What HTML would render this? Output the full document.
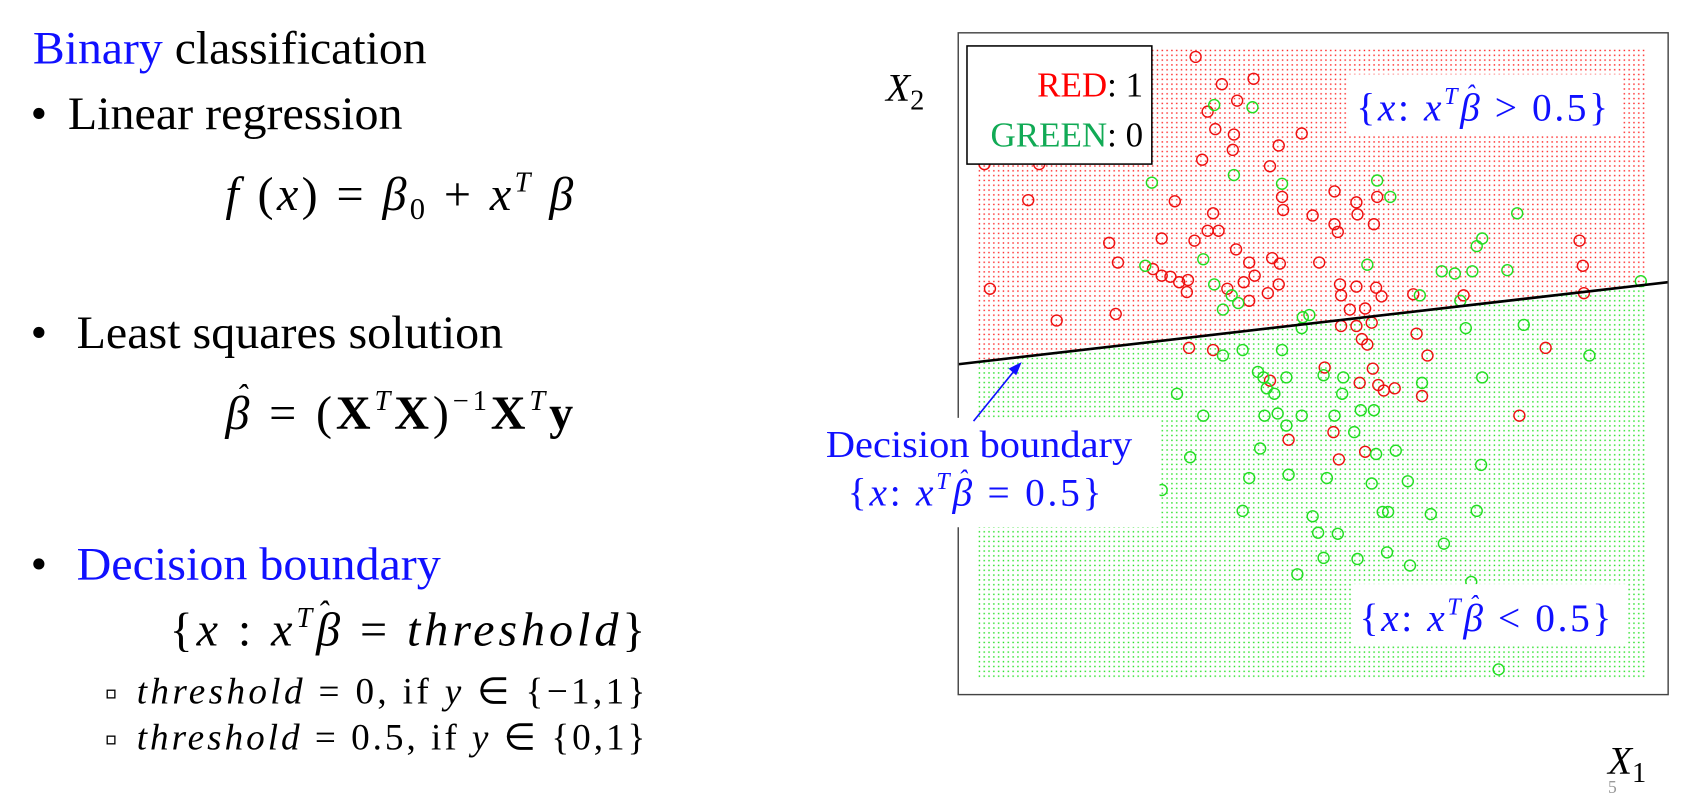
<!DOCTYPE html>
<html><head><meta charset="utf-8"><style>
html,body{margin:0;padding:0;background:#fff;}
svg{display:block;}
text{font-family:"Liberation Serif",serif;}
</style></head><body>
<svg width="1707" height="796" viewBox="0 0 1560.5 727.7" xmlns="http://www.w3.org/2000/svg">
<defs>
<pattern id="pr" width="4.4" height="4.4" patternUnits="userSpaceOnUse"><rect x="1.5" y="1.5" width="1.3" height="1.3" fill="#ff2020"/></pattern>
<pattern id="pg" width="4.4" height="4.4" patternUnits="userSpaceOnUse"><rect x="1.5" y="1.5" width="1.3" height="1.3" fill="#20e020"/></pattern>
</defs>
<!-- left text -->
<text x="30" y="58" font-size="43" textLength="360" lengthAdjust="spacingAndGlyphs"><tspan fill="#1010ff">Binary</tspan> classification</text>
<text x="28" y="118" font-size="43">•</text><text x="62" y="118" font-size="43" textLength="306" lengthAdjust="spacingAndGlyphs">Linear regression</text>
<text x="206" y="192" font-size="44" font-style="italic" textLength="318" lengthAdjust="spacing">f <tspan font-style="normal">(</tspan>x<tspan font-style="normal">) = </tspan>β<tspan font-style="normal" font-size="28" dy="8">0</tspan><tspan font-style="normal" dy="-8"> + </tspan>x<tspan font-size="26" dy="-17">T</tspan><tspan dy="17"> β</tspan></text>
<text x="28" y="318" font-size="43">•</text><text x="70" y="318" font-size="43" textLength="390" lengthAdjust="spacingAndGlyphs">Least squares solution</text>
<text x="206" y="392" font-size="44" textLength="318" lengthAdjust="spacing"><tspan font-style="italic">β</tspan> = (<tspan font-weight="bold">X</tspan><tspan font-style="italic" font-size="26" dy="-17">T</tspan><tspan font-weight="bold" dy="17">X</tspan>)<tspan font-size="26" dy="-17">−1</tspan><tspan font-weight="bold" dy="17">X</tspan><tspan font-style="italic" font-size="26" dy="-17">T</tspan><tspan font-weight="bold" dy="17">y</tspan></text>
<text x="216" y="372" font-size="30" font-style="italic">ˆ</text>
<text x="28" y="530" font-size="43">•</text><text x="70" y="530" font-size="43" fill="#1010ff" textLength="333" lengthAdjust="spacingAndGlyphs">Decision boundary</text>
<text x="155" y="590" font-size="44" textLength="435" lengthAdjust="spacing">{<tspan font-style="italic">x</tspan> :  <tspan font-style="italic">x</tspan><tspan font-style="italic" font-size="26" dy="-17">T</tspan><tspan font-style="italic" dy="17">β</tspan> = <tspan font-style="italic">threshold</tspan>}</text>
<text x="290" y="570" font-size="30" font-style="italic">ˆ</text>
<rect x="98" y="631" width="7" height="7" fill="none" stroke="#000" stroke-width="1.2"/>
<rect x="98" y="673" width="7" height="7" fill="none" stroke="#000" stroke-width="1.2"/>
<text x="125" y="643" font-size="34" textLength="465" lengthAdjust="spacing"><tspan font-style="italic">threshold</tspan>  =  0, if <tspan font-style="italic">y</tspan> ∈ {−1,1}</text>
<text x="125" y="685" font-size="34" textLength="465" lengthAdjust="spacing"><tspan font-style="italic">threshold</tspan>  =  0.5, if <tspan font-style="italic">y</tspan> ∈ {0,1}</text>

<!-- plot -->
<polygon points="893,45 1505,45 1505,259 893,330" fill="url(#pr)"/>
<polygon points="893,330 1505,259 1505,620 893,620" fill="url(#pg)"/>
<g fill="none" stroke-width="1.3">
<g stroke="#ee1111">
<circle cx="1093" cy="52" r="5"/><circle cx="1117" cy="77" r="5"/><circle cx="1146" cy="72" r="5"/><circle cx="1131" cy="92" r="5"/><circle cx="1104" cy="102" r="5"/><circle cx="1111" cy="118" r="5"/><circle cx="1128" cy="123" r="5"/><circle cx="1169" cy="133" r="5"/><circle cx="1190" cy="122" r="5"/><circle cx="1127" cy="137" r="5"/><circle cx="1099" cy="146" r="5"/><circle cx="1161" cy="152" r="5"/><circle cx="940" cy="183" r="5"/><circle cx="1074" cy="184" r="5"/><circle cx="1109" cy="195" r="5"/><circle cx="1172" cy="180" r="5"/><circle cx="1173" cy="192" r="5"/><circle cx="1240" cy="185" r="5"/><circle cx="1259" cy="180" r="5"/><circle cx="1241" cy="196" r="5"/><circle cx="1200" cy="197" r="5"/><circle cx="1220" cy="205" r="5"/><circle cx="1223" cy="212" r="5"/><circle cx="1256" cy="205" r="5"/><circle cx="1014" cy="222" r="5"/><circle cx="1022" cy="240" r="5"/><circle cx="1062" cy="218" r="5"/><circle cx="1104" cy="211" r="5"/><circle cx="1114" cy="211" r="5"/><circle cx="1092" cy="220" r="5"/><circle cx="1130" cy="228" r="5"/><circle cx="1142" cy="240" r="5"/><circle cx="1147" cy="252" r="5"/><circle cx="1170" cy="241" r="5"/><circle cx="1163" cy="236" r="5"/><circle cx="1206" cy="240" r="5"/><circle cx="1054" cy="246" r="5"/><circle cx="1062" cy="252" r="5"/><circle cx="1070" cy="253" r="5"/><circle cx="1078" cy="258" r="5"/><circle cx="1086" cy="256" r="5"/><circle cx="1085" cy="267" r="5"/><circle cx="1122" cy="264" r="5"/><circle cx="1137" cy="258" r="5"/><circle cx="1142" cy="275" r="5"/><circle cx="1159" cy="268" r="5"/><circle cx="1169" cy="260" r="5"/><circle cx="1225" cy="260" r="5"/><circle cx="1226" cy="270" r="5"/><circle cx="1240" cy="262" r="5"/><circle cx="1258" cy="263" r="5"/><circle cx="1263" cy="271" r="5"/><circle cx="1248" cy="282" r="5"/><circle cx="1234" cy="283" r="5"/><circle cx="1226" cy="298" r="5"/><circle cx="1240" cy="298" r="5"/><circle cx="1254" cy="295" r="5"/><circle cx="1245" cy="310" r="5"/><circle cx="1250" cy="315" r="5"/><circle cx="1295" cy="305" r="5"/><circle cx="1305" cy="325" r="5"/><circle cx="1413" cy="318" r="5"/><circle cx="1389" cy="380" r="5"/><circle cx="1447" cy="243" r="5"/><circle cx="1444" cy="220" r="5"/><circle cx="1448" cy="268" r="5"/><circle cx="905" cy="264" r="5"/><circle cx="966" cy="293" r="5"/><circle cx="1020" cy="287" r="5"/><circle cx="1087" cy="318" r="5"/><circle cx="1109" cy="320" r="5"/><circle cx="1178" cy="402" r="5"/><circle cx="1224" cy="420" r="5"/><circle cx="1219" cy="395" r="5"/><circle cx="1248" cy="413" r="5"/><circle cx="1265" cy="357" r="5"/><circle cx="1275" cy="355" r="5"/><circle cx="1260" cy="352" r="5"/><circle cx="1255" cy="337" r="5"/><circle cx="1243" cy="350" r="5"/><circle cx="1300" cy="362" r="5"/><circle cx="1211" cy="336" r="5"/><circle cx="1161" cy="348" r="5"/><circle cx="1292" cy="269" r="5"/><circle cx="1220" cy="175" r="5"/><circle cx="1338" cy="270" r="5"/><circle cx="900" cy="150" r="5"/><circle cx="950" cy="150" r="5"/>
</g>
<g stroke="#22dd22">
<circle cx="1110" cy="96" r="5"/><circle cx="1145" cy="98" r="5"/><circle cx="1053" cy="167" r="5"/><circle cx="1128" cy="160" r="5"/><circle cx="1172" cy="168" r="5"/><circle cx="1259" cy="165" r="5"/><circle cx="1271" cy="180" r="5"/><circle cx="1387" cy="195" r="5"/><circle cx="1355" cy="218" r="5"/><circle cx="1350" cy="225" r="5"/><circle cx="1378" cy="247" r="5"/><circle cx="1346" cy="248" r="5"/><circle cx="1318" cy="248" r="5"/><circle cx="1298" cy="270" r="5"/><circle cx="1335" cy="275" r="5"/><circle cx="1340" cy="300" r="5"/><circle cx="1393" cy="297" r="5"/><circle cx="1453" cy="325" r="5"/><circle cx="1500" cy="257" r="5"/><circle cx="1047" cy="243" r="5"/><circle cx="1100" cy="237" r="5"/><circle cx="1132" cy="277" r="5"/><circle cx="1118" cy="283" r="5"/><circle cx="1118" cy="325" r="5"/><circle cx="1136" cy="320" r="5"/><circle cx="1191" cy="290" r="5"/><circle cx="1197" cy="288" r="5"/><circle cx="1190" cy="300" r="5"/><circle cx="1172" cy="320" r="5"/><circle cx="1150" cy="340" r="5"/><circle cx="1155" cy="345" r="5"/><circle cx="1158" cy="355" r="5"/><circle cx="1176" cy="345" r="5"/><circle cx="1165" cy="360" r="5"/><circle cx="1156" cy="380" r="5"/><circle cx="1168" cy="378" r="5"/><circle cx="1176" cy="389" r="5"/><circle cx="1190" cy="380" r="5"/><circle cx="1210" cy="343" r="5"/><circle cx="1228" cy="345" r="5"/><circle cx="1244" cy="375" r="5"/><circle cx="1256" cy="375" r="5"/><circle cx="1227" cy="360" r="5"/><circle cx="1220" cy="380" r="5"/><circle cx="1238" cy="395" r="5"/><circle cx="1100" cy="380" r="5"/><circle cx="1076" cy="360" r="5"/><circle cx="1088" cy="418" r="5"/><circle cx="1152" cy="410" r="5"/><circle cx="1142" cy="437" r="5"/><circle cx="1178" cy="434" r="5"/><circle cx="1213" cy="437" r="5"/><circle cx="1276" cy="412" r="5"/><circle cx="1258" cy="415" r="5"/><circle cx="1254" cy="442" r="5"/><circle cx="1287" cy="440" r="5"/><circle cx="1354" cy="425" r="5"/><circle cx="1308" cy="470" r="5"/><circle cx="1350" cy="467" r="5"/><circle cx="1320" cy="497" r="5"/><circle cx="1200" cy="472" r="5"/><circle cx="1223" cy="488" r="5"/><circle cx="1205" cy="487" r="5"/><circle cx="1210" cy="510" r="5"/><circle cx="1241" cy="511" r="5"/><circle cx="1268" cy="505" r="5"/><circle cx="1289" cy="517" r="5"/><circle cx="1269" cy="468" r="5"/><circle cx="1264" cy="468" r="5"/><circle cx="1186" cy="525" r="5"/><circle cx="1136" cy="467" r="5"/><circle cx="1062" cy="448" r="5"/><circle cx="1370" cy="612" r="5"/><circle cx="1345" cy="532" r="5"/><circle cx="1300" cy="350" r="5"/><circle cx="1355" cy="345" r="5"/><circle cx="1330" cy="250" r="5"/><circle cx="1110" cy="260" r="5"/><circle cx="1250" cy="242" r="5"/><circle cx="1126" cy="270" r="5"/>
</g>
</g>
<!-- boundary line -->
<line x1="876" y1="333" x2="1525" y2="258" stroke="#000" stroke-width="2.4"/>
<!-- plot frame -->
<rect x="876" y="30" width="649" height="605" fill="none" stroke="#444" stroke-width="1.3"/>
<!-- legend -->
<rect x="884" y="42" width="169" height="108" fill="#fff" stroke="#000" stroke-width="1.4"/>
<text x="1045" y="88" font-size="32" text-anchor="end"><tspan fill="#ff0000">RED</tspan>: 1</text>
<text x="1045" y="134" font-size="32" text-anchor="end"><tspan fill="#11aa55">GREEN</tspan>: 0</text>
<!-- region labels -->
<rect x="1232" y="68" width="250" height="56" fill="#fff"/>
<text x="1240" y="110" font-size="36" fill="#1010ff" textLength="230" lengthAdjust="spacing">{<tspan font-style="italic">x</tspan>: <tspan font-style="italic">x</tspan><tspan font-style="italic" font-size="22" dy="-15">T</tspan><tspan font-style="italic" dy="15">β</tspan> &gt; 0.5}</text>
<text x="1340" y="94" font-size="24" fill="#1010ff" font-style="italic">ˆ</text>
<rect x="1236" y="534" width="250" height="56" fill="#fff"/>
<text x="1243" y="577" font-size="36" fill="#1010ff" textLength="230" lengthAdjust="spacing">{<tspan font-style="italic">x</tspan>: <tspan font-style="italic">x</tspan><tspan font-style="italic" font-size="22" dy="-15">T</tspan><tspan font-style="italic" dy="15">β</tspan> &lt; 0.5}</text>
<text x="1343" y="561" font-size="24" fill="#1010ff" font-style="italic">ˆ</text>
<!-- decision boundary label -->
<rect x="745" y="382" width="315" height="100" fill="#fff"/>
<text x="755" y="418" font-size="35" fill="#1010ff" textLength="280" lengthAdjust="spacingAndGlyphs">Decision boundary</text>
<text x="775" y="462" font-size="36" fill="#1010ff" textLength="232" lengthAdjust="spacing">{<tspan font-style="italic">x</tspan>: <tspan font-style="italic">x</tspan><tspan font-style="italic" font-size="22" dy="-15">T</tspan><tspan font-style="italic" dy="15">β</tspan> = 0.5}</text>
<text x="876" y="446" font-size="24" fill="#1010ff" font-style="italic">ˆ</text>
<line x1="890" y1="385" x2="928" y2="338" stroke="#1010ff" stroke-width="1.5"/>
<polygon points="934,331 922,337 929,343" fill="#1010ff"/>
<!-- axis labels -->
<text x="810" y="92" font-size="36" font-style="italic">X<tspan font-style="normal" font-size="26" dy="8">2</tspan></text>
<text x="1470" y="707" font-size="36" font-style="italic">X<tspan font-style="normal" font-size="26" dy="8">1</tspan></text>
<text x="1470" y="725" font-size="16" fill="#999" font-family="Liberation Sans">5</text>
</svg>
</body></html>
